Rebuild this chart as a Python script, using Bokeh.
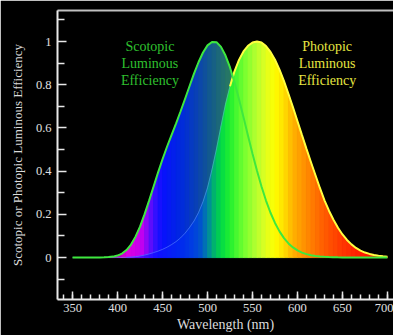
from bokeh.plotting import figure
from bokeh.models import LinearAxis, Range1d, FixedTicker
from bokeh.embed import file_html
from bokeh.resources import INLINE
from bokeh.core.properties import value

# ---------------- data (CIE-like curves) ----------------
wavelength = list(range(350, 705, 5))
scotopic = [0, 0, 0, 0, 0, 0, 0.0006, 0.0011, 0.0022, 0.0045,
            0.0093, 0.0185, 0.0348, 0.0604, 0.0966, 0.1436, 0.1998, 0.2625, 0.3281, 0.3931,
            0.455, 0.513, 0.567, 0.620, 0.676, 0.734, 0.793, 0.851, 0.904, 0.949,
            0.982, 0.998, 0.997, 0.975, 0.935, 0.880, 0.811, 0.733, 0.650, 0.564,
            0.481, 0.402, 0.3288, 0.2639, 0.2076, 0.1602, 0.1212, 0.0899, 0.0655, 0.0469,
            0.0332, 0.0231, 0.0159, 0.0109, 0.0074, 0.0050, 0.0033, 0.0022, 0.0015, 0.0010,
            0.0007, 0.0005, 0.0003, 0.0002, 0.0001, 0, 0, 0, 0, 0, 0]
photopic = [0, 0, 0, 0, 0, 0, 0.00004, 0.00006, 0.00012, 0.00022,
            0.0004, 0.00064, 0.0012, 0.00218, 0.004, 0.0073, 0.0116, 0.0168, 0.023, 0.0298,
            0.038, 0.048, 0.060, 0.0739, 0.091, 0.1126, 0.139, 0.1693, 0.208, 0.2586,
            0.323, 0.4073, 0.503, 0.6082, 0.710, 0.7932, 0.862, 0.9149, 0.954, 0.9803,
            0.995, 1.0, 0.995, 0.9786, 0.952, 0.9154, 0.870, 0.8163, 0.757, 0.6949,
            0.631, 0.5668, 0.503, 0.4412, 0.381, 0.321, 0.265, 0.217, 0.175, 0.1382,
            0.107, 0.0816, 0.061, 0.0446, 0.032, 0.0232, 0.017, 0.0119, 0.0082, 0.0057,
            0.0041]
x_ticks = [350, 400, 450, 500, 550, 600, 650, 700]
y_ticks = [0, 0.2, 0.4, 0.6, 0.8, 1]
scot_label = ["Scotopic", "Luminous", "Efficiency"]
phot_label = ["Photopic", "Luminous", "Efficiency"]
x_title = "Wavelength (nm)"
y_title = "Scotopic or Photopic Luminous Efficiency"

# ---------------- colour styling ----------------
scot_stops = [(395, "#a000b0"), (412, "#e000e0"), (428, "#c000f0"), (440, "#4010ff"),
              (450, "#0810ff"), (470, "#0028e0"), (490, "#0a44b0"), (502, "#125890"),
              (515, "#1e6c74"), (530, "#2e8058"), (700, "#3a8a50")]
phot_stops = [(420, "#6010ff"), (445, "#1010ff"), (470, "#0028f0"), (485, "#0040e0"),
              (493, "#0054cc"), (500, "#0080a8"), (507, "#00b070"), (515, "#00d848"),
              (525, "#20f030"), (540, "#70ff30"), (555, "#b8ff30"), (565, "#e0ff20"),
              (575, "#ffff00"), (585, "#ffe000"), (595, "#ffb400"), (610, "#ff8c00"),
              (630, "#ff5c00"), (650, "#ff3800"), (670, "#ff1c00"), (700, "#ff0000")]


def hex2rgb(h):
    return tuple(int(h[i:i + 2], 16) for i in (1, 3, 5))


def color_at(w, stops):
    if w <= stops[0][0]:
        return stops[0][1]
    for (w0, c0), (w1, c1) in zip(stops[:-1], stops[1:]):
        if w0 <= w <= w1:
            t = (w - w0) / (w1 - w0)
            a, b = hex2rgb(c0), hex2rgb(c1)
            return "#%02x%02x%02x" % tuple(int(round(a[i] + (b[i] - a[i]) * t)) for i in range(3))
    return stops[-1][1]


def segments(vals, stops):
    xs, ys, cs = [], [], []
    for i in range(len(wavelength) - 1):
        x0, x1 = wavelength[i], wavelength[i + 1]
        v0, v1 = vals[i], vals[i + 1]
        if max(v0, v1) < 0.002:
            continue
        xs.append([x0, x0, x1, x1])
        ys.append([0, v0, v1, 0])
        cs.append(color_at((x0 + x1) / 2, stops))
    return xs, ys, cs


FONT = "Liberation Serif, Times New Roman, serif"

p = figure(width=393, height=335, output_backend="svg", toolbar_location=None,
           x_range=Range1d(333.3, 706.7), y_range=Range1d(-0.194, 1.1435),
           background_fill_color="black", border_fill_color="black",
           min_border_left=57, min_border_right=0, min_border_top=10, min_border_bottom=36,
           outline_line_color=None)
p.grid.visible = False

# fills
sx, sy, sc = segments(scotopic, scot_stops)
p.patches(sx, sy, fill_color=sc, line_color=sc, line_width=0.8)
px_, py_, pc = segments(photopic, phot_stops)
p.patches(px_, py_, fill_color=pc, line_color=pc, line_width=0.8)

# photopic curve: faint on the left flank, yellow elsewhere
split = wavelength.index(525)
p.line(wavelength[:split + 1], photopic[:split + 1], line_color="#7aa8ff", line_alpha=0.45, line_width=1)
p.line(wavelength[split:], photopic[split:], line_color="#ffff40", line_width=2)
# scotopic curve
p.line(wavelength, scotopic, line_color="#3ee83e", line_width=2)

# annotations
ty = [0.977, 0.898, 0.82]
p.text(x=[436] * 3, y=ty, text=scot_label, text_color="#2fc02f", text_align="center",
       text_baseline="middle", text_font=value(FONT), text_font_size="14px")
p.text(x=[633] * 3, y=ty, text=phot_label, text_color="#e6e640", text_align="center",
       text_baseline="middle", text_font=value(FONT), text_font_size="14px")

# axes styling
for ax in (p.xaxis[0], p.yaxis[0]):
    ax.axis_line_color = "#e8e8e8"
    ax.axis_line_width = 2
    ax.major_tick_line_color = "#e8e8e8"
    ax.minor_tick_line_color = "#e8e8e8"
    ax.major_tick_line_width = 1.5
    ax.minor_tick_line_width = 1.5
    ax.major_tick_out = 0
    ax.minor_tick_out = 0
    ax.major_label_text_color = "#e0e0e0"
    ax.major_label_text_font = FONT
    ax.major_label_text_font_size = "12.5px"
    ax.axis_label_text_color = "#dcdcdc"
    ax.axis_label_text_font = FONT
    ax.axis_label_text_font_style = "normal"

p.xaxis[0].ticker = FixedTicker(ticks=x_ticks, minor_ticks=list(range(340, 710, 10)))
p.xaxis[0].major_tick_in = 8
p.xaxis[0].minor_tick_in = 5
p.xaxis[0].major_label_standoff = 4
p.xaxis[0].axis_label = x_title
p.xaxis[0].axis_label_text_font_size = "14px"
p.xaxis[0].axis_label_standoff = 2

p.yaxis[0].ticker = FixedTicker(ticks=y_ticks, minor_ticks=[-0.1, 0.1, 0.3, 0.5, 0.7, 0.9, 1.1])
p.yaxis[0].major_tick_in = 9
p.yaxis[0].minor_tick_in = 7
p.yaxis[0].major_label_standoff = 6
p.yaxis[0].axis_label = y_title
p.yaxis[0].axis_label_text_font_size = "13px"
p.yaxis[0].axis_label_standoff = 8

top = LinearAxis(ticker=FixedTicker(ticks=[], minor_ticks=[]),
                 major_tick_in=0, major_tick_out=0, minor_tick_in=0, minor_tick_out=0,
                 major_label_standoff=0,
                 axis_line_color="#c0c0c0", axis_line_width=2)
p.add_layout(top, "above")

open("out.html", "w").write(file_html(p, INLINE))
